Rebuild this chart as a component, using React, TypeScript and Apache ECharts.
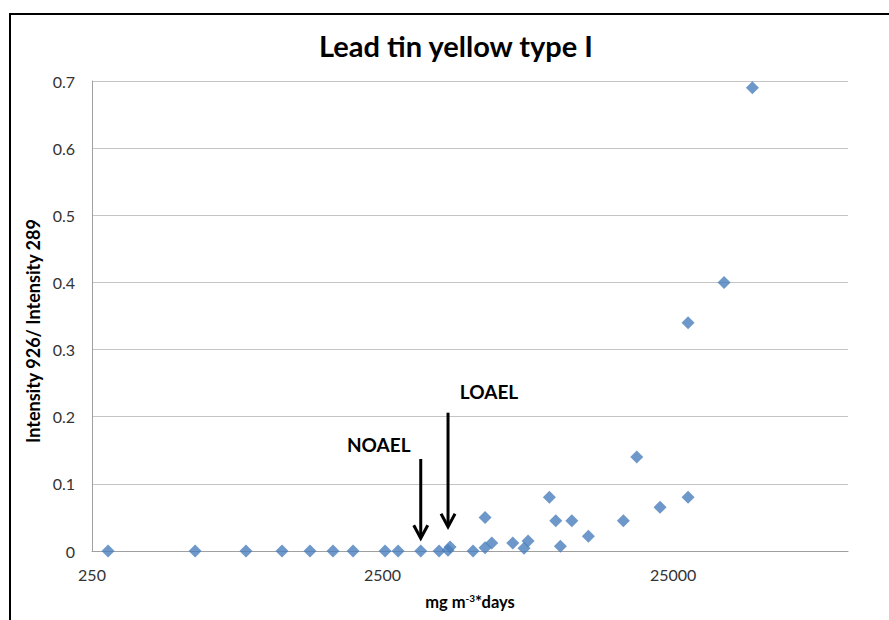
import React, { useEffect, useRef } from "react";
import * as echarts from "echarts";

const exposure = [
  284, 566, 847, 1127, 1407, 1688, 1979, 2550, 2828, 3384, 3913, 4201, 4269,
  5122, 5633, 5633, 5942, 7017, 7675, 7922, 9379, 9867, 10235, 11203, 12776,
  16860, 18748, 22548, 28150, 28150, 37450, 46870,
];
const intensityRatio = [
  0, 0, 0, 0, 0, 0, 0, 0, 0, 0, 0, 0.001, 0.006, 0, 0.05, 0.005, 0.012, 0.012,
  0.004, 0.015, 0.08, 0.045, 0.007, 0.045, 0.022, 0.045, 0.14, 0.065, 0.08,
  0.34, 0.4, 0.69,
];
const xTickLabels = [250, 2500, 25000];
const annotationLabels = ["NOAEL", "LOAEL"];
const annotationX = [3384, 4201];
const arrowTop = [0.137, 0.206];
const arrowTip = [0.019, 0.036];

const labelOffsets = [
  [-42, -15],
  [41, -21],
];

const FONT = "Lato, 'Open Sans', sans-serif";

export default function App() {
  const ref = useRef<HTMLDivElement>(null);
  useEffect(() => {
    if (!ref.current) return;
    const chart = echarts.init(ref.current, undefined, { renderer: "svg" });
    const points = exposure.map((x, i) => [x, intensityRatio[i]]);
    const arrows = annotationX.map((x, i) => [x, arrowTop[i], arrowTip[i]]);
    chart.setOption({
      animation: false,
      backgroundColor: "#ffffff",
      textStyle: { fontFamily: FONT },
      graphic: [
        {
          type: "rect",
          shape: { x: 10, y: 14, width: 900, height: 640 },
          style: { fill: "none", stroke: "#000", lineWidth: 2 },
          silent: true,
        },
        {
          type: "text",
          x: 456,
          y: 45,
          style: {
            text: "Lead tin yellow type I",
            align: "center",
            verticalAlign: "middle",
            fontFamily: FONT,
            fontWeight: "bold",
            fontSize: 29,
            fill: "#000",
          },
        },
      ],
      grid: {
        left: 92,
        right: 41,
        top: 81,
        bottom: 69,
        outerBoundsMode: "none",
      },
      xAxis: {
        type: "log",
        logBase: 10,
        min: 250,
        max: 100000,
        name: "{a|mg m}{s|-3}{a|*days}",
        nameLocation: "middle",
        nameGap: 42,
        nameTextStyle: {
          rich: {
            a: { fontFamily: FONT, fontWeight: "bold", fontSize: 16.5, color: "#000" },
            s: {
              fontFamily: FONT,
              fontWeight: "bold",
              fontSize: 10,
              color: "#000",
              verticalAlign: "top",
              padding: [0, 0, 7, 0],
            },
          },
        },
        axisLine: { show: true, lineStyle: { color: "#a0a0a0", width: 1 } },
        axisTick: { show: false },
        splitLine: { show: false },
        minorSplitLine: { show: false },
        axisLabel: {
          customValues: xTickLabels,
          formatter: (v: number) => String(Math.round(v)),
          fontFamily: FONT,
          fontSize: 16,
          color: "#333",
          margin: 15,
        },
      },
      yAxis: {
        type: "value",
        min: 0,
        max: 0.7,
        interval: 0.1,
        name: "Intensity 926/ Intensity 289",
        nameLocation: "middle",
        nameGap: 44,
        nameTextStyle: {
          fontFamily: FONT,
          fontWeight: "bold",
          fontSize: 18,
          color: "#000",
          padding: [0, 30, 0, 0],
        },
        axisLine: { show: true, lineStyle: { color: "#a0a0a0", width: 1 } },
        axisTick: { show: false },
        splitLine: { show: true, lineStyle: { color: "#c4c4c4", width: 1 } },
        axisLabel: {
          formatter: (v: number) => (v === 0 ? "0" : v.toFixed(1)),
          fontFamily: FONT,
          fontSize: 16,
          color: "#333",
          margin: 17,
        },
      },
      series: [
        {
          type: "scatter",
          data: points,
          symbol: "diamond",
          symbolSize: 13,
          itemStyle: { color: "#4a7ebb" },
          z: 3,
        },
        {
          type: "custom",
          data: arrows,
          z: 4,
          renderItem: (params: any, api: any) => {
            const i = params.dataIndex;
            const x = api.value(0);
            const p1 = api.coord([x, api.value(1)]);
            const p2 = api.coord([x, api.value(2)]);
            const off = labelOffsets[i];
            return {
              type: "group",
              children: [
                {
                  type: "line",
                  shape: { x1: p1[0], y1: p1[1], x2: p2[0], y2: p2[1] - 2 },
                  style: { stroke: "#000", lineWidth: 3 },
                },
                {
                  type: "polyline",
                  shape: {
                    points: [
                      [p2[0] - 7, p2[1] - 13],
                      [p2[0], p2[1]],
                      [p2[0] + 7, p2[1] - 13],
                    ],
                  },
                  style: { stroke: "#000", lineWidth: 3, fill: "none" },
                },
                {
                  type: "text",
                  x: p1[0] + off[0],
                  y: p1[1] + off[1],
                  style: {
                    text: annotationLabels[i],
                    align: "center",
                    verticalAlign: "middle",
                    fontFamily: FONT,
                    fontWeight: "bold",
                    fontSize: 19,
                    fill: "#000",
                  },
                },
              ],
            };
          },
        },
      ],
    });
    return () => chart.dispose();
  }, []);
  return (
    <div
      ref={ref}
      style={{ position: "fixed", left: 0, top: 0, width: 889, height: 620 }}
    />
  );
}
